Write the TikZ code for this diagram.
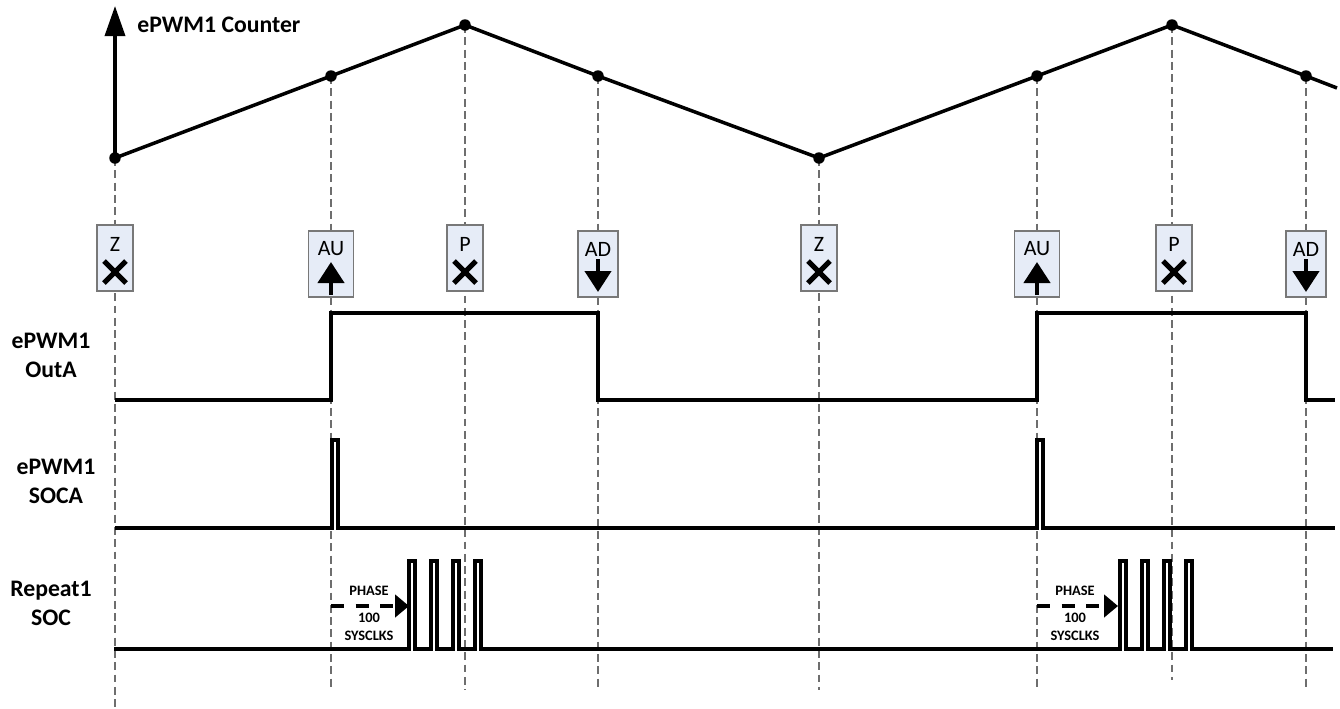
\documentclass[tikz,border=0pt]{standalone}
\usepackage{fontspec}
\setmainfont{Carlito}
\usepackage{tikz}
\usetikzlibrary{arrows.meta,positioning}
\definecolor{boxfill}{RGB}{230,236,247}
\definecolor{boxline}{RGB}{120,120,120}
\definecolor{guidegray}{RGB}{110,110,110}

\begin{document}
\begin{tikzpicture}[x=0.02cm, y=-0.02cm,
	cnt/.style={line width=2pt},
	sig/.style={line width=2pt, line join=miter},
	guide/.style={guidegray, line width=0.6pt, dash pattern=on 4.5pt off 2.5pt},
	dot/.style={circle, fill=black, inner sep=0pt, minimum size=0.23cm},
	evbox/.style={draw=boxline, fill=boxfill, line width=0.6pt, inner sep=0pt, minimum height=1.32cm},
	evtxt/.style={inner sep=0pt, font=\fontsize{12.5}{14}\selectfont},
	evsym/.style={line width=3pt},
	evarr/.style={line width=2.4pt, -{Triangle[length=0.42cm, width=0.52cm]}},
	siglbl/.style={align=center, inner sep=0pt, font=\fontsize{13.5}{16.4}\selectfont\bfseries},
	phlbl/.style={align=center, inner sep=0pt, font=\fontsize{8.2}{10.6}\selectfont\bfseries},
	phasearr/.style={line width=1.8pt, dash pattern=on 7.5pt off 6.5pt, -{Triangle[length=0.28cm, width=0.45cm]}}]
	\useasboundingbox (0,0) rectangle (1340,708);

	% counter points
	\coordinate (z1) at (115,158);
	\coordinate (au1) at (331,76);
	\coordinate (p1) at (465,25);
	\coordinate (ad1) at (598,76);
	\coordinate (z2) at (819,158);
	\coordinate (au2) at (1037,76);
	\coordinate (p2) at (1172,25);
	\coordinate (ad2) at (1306,76);
	\coordinate (cend) at (1337,88);
	\coordinate (axtop) at (115,6);
	\coordinate (bot) at (0,690);
	\coordinate (botz) at (0,708);

	% guide lines
	\draw[guide] (z1) -- (z1 |- botz);
	\draw[guide] (au1) -- (au1 |- bot);
	\draw[guide] (p1) -- (p1 |- bot);
	\draw[guide] (ad1) -- (ad1 |- bot);
	\draw[guide] (z2) -- (z2 |- bot);
	\draw[guide] (au2) -- (au2 |- bot);
	\draw[guide] (p2) -- (p2 |- 0,680);
	\draw[guide] (ad2) -- (ad2 |- bot);

	% counter
	\draw[cnt, -{Triangle[length=0.6cm, width=0.4cm]}] (z1) -- (axtop);
	\node[siglbl, anchor=base west] (cntlbl) at (137,32) {ePWM1 Counter};
	\draw[cnt] (z1) -- (au1) -- (p1) -- (ad1) -- (z2) -- (au2) -- (p2) -- (ad2) -- (cend);
	\node[dot] (dz1) at (z1) {};
	\node[dot] (dau1) at (au1) {};
	\node[dot] (dp1) at (p1) {};
	\node[dot] (dad1) at (ad1) {};
	\node[dot] (dz2) at (z2) {};
	\node[dot] (dau2) at (au2) {};
	\node[dot] (dp2) at (p2) {};
	\node[dot] (dad2) at (ad2) {};

	% events
	\node[evbox, minimum width=0.72cm] (ez1) at (115,258) {};
	\node[evtxt] (tz1) at (115,244) {Z};
	\draw[evsym] (104,261) -- (126,283) (104,283) -- (126,261);
	\node[evbox, minimum width=0.9cm] (eau1) at (331,264) {};
	\node[evtxt] (tau1) at (331,249) {AU};
	\draw[evarr] (331,295) -- (331,262);
	\node[evbox, minimum width=0.72cm] (ep1) at (465,258) {};
	\node[evtxt] (tp1) at (465,244) {P};
	\draw[evsym] (454,261) -- (476,283) (454,283) -- (476,261);
	\node[evbox, minimum width=0.8cm] (ead1) at (598,264) {};
	\node[evtxt] (tad1) at (598,249) {AD};
	\draw[evarr] (598,259) -- (598,292);
	\node[evbox, minimum width=0.72cm] (ez2) at (819,258) {};
	\node[evtxt] (tz2) at (819,244) {Z};
	\draw[evsym] (808,261) -- (830,283) (808,283) -- (830,261);
	\node[evbox, minimum width=0.9cm] (eau2) at (1037,264) {};
	\node[evtxt] (tau2) at (1037,249) {AU};
	\draw[evarr] (1037,295) -- (1037,262);
	\node[evbox, minimum width=0.72cm] (ep2) at (1174,258) {};
	\node[evtxt] (tp2) at (1174,244) {P};
	\draw[evsym] (1163,261) -- (1185,283) (1163,283) -- (1185,261);
	\node[evbox, minimum width=0.8cm] (ead2) at (1306,264) {};
	\node[evtxt] (tad2) at (1306,249) {AD};
	\draw[evarr] (1306,259) -- (1306,292);

	% signals
	\node[siglbl] (outa) at (51,355) {ePWM1\\OutA};
	\draw[sig] (115,400) -- (331,400) -- (331,313) -- (598,313) -- (598,400) -- (1037,400) -- (1037,313) -- (1306,313) -- (1306,400) -- (1335,400);
	\node[siglbl] (soca) at (56,481) {ePWM1\\SOCA};
	\draw[sig] (115,528) -- (332,528) -- (332,440) -- (338,440) -- (338,528) -- (1037,528) -- (1037,440) -- (1043,440) -- (1043,528) -- (1335,528);
	\node[siglbl] (rsoc) at (51,603) {Repeat1\\SOC};
	\draw[sig] (114,649) foreach \p in {409,431,453,475} { -- (\p,649) -- (\p,561) -- (\p+6,561) -- (\p+6,649) }
		foreach \p in {1120,1142,1164,1186} { -- (\p,649) -- (\p,561) -- (\p+6,561) -- (\p+6,649) } -- (1333,649);

	% phase
	\coordinate (ph1s) at (331,606);
	\coordinate (ph1e) at (409,606);
	\coordinate (ph2s) at (1037,606);
	\coordinate (ph2e) at (1118,606);
	\draw[phasearr] (ph1s) -- (ph1e);
	\node[phlbl] (ph1t) at (369,591) {PHASE};
	\node[phlbl] (ph1b) at (369,627) {100\\SYSCLKS};
	\draw[phasearr] (ph2s) -- (ph2e);
	\node[phlbl] (ph2t) at (1075,591) {PHASE};
	\node[phlbl] (ph2b) at (1075,627) {100\\SYSCLKS};
\end{tikzpicture}
\end{document}
